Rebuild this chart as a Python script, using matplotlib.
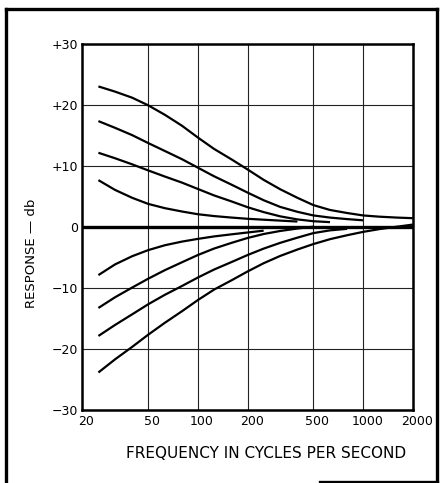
import matplotlib
matplotlib.use("Agg")
import matplotlib.pyplot as plt
from matplotlib.lines import Line2D
from matplotlib.transforms import ScaledTranslation

plt.rcParams['font.family'] = ['DejaVu Sans']

# Third-octave band frequencies (Hz) at which each response curve is tabulated
bands = [25, 31.5, 40, 50, 63, 80, 100, 125, 160, 200, 250, 315, 400, 500,
         630, 800, 1000, 1250, 1600, 2000]

# Bass boost settings (dB)
boost_1_db = [23.1, 22.25, 21.25, 20.0, 18.45, 16.65, 14.7, 12.85, 11.1, 9.45,
              7.75, 6.2, 4.8, 3.6, 2.8, 2.3, 1.9, 1.7, 1.55, 1.45]
boost_2_db = [17.4, 16.3, 15.1, 13.8, 12.5, 11.15, 9.75, 8.35, 6.95, 5.65,
              4.4, 3.3, 2.5, 1.9, 1.55, 1.3, 1.1]
boost_3_db = [12.2, 11.3, 10.3, 9.3, 8.3, 7.3, 6.25, 5.2, 4.2, 3.25,
              2.45, 1.75, 1.25, 0.95, 0.8]
boost_4_db = [7.7, 6.1, 4.8, 3.8, 3.1, 2.55, 2.1, 1.8, 1.55, 1.35,
              1.2, 1.05, 0.9]

# Bass cut settings (dB)
cut_1_db = [-7.9, -6.15, -4.8, -3.8, -3.0, -2.4, -1.95, -1.55, -1.2, -0.9, -0.6]
cut_2_db = [-13.3, -11.55, -9.95, -8.5, -7.1, -5.8, -4.6, -3.55, -2.6, -1.8,
            -1.15, -0.65, -0.25, 0.05]
cut_3_db = [-17.9, -16.1, -14.35, -12.7, -11.15, -9.7, -8.3, -7.0, -5.75, -4.6,
            -3.55, -2.6, -1.75, -1.0, -0.55, -0.3]
cut_4_db = [-23.9, -21.75, -19.7, -17.7, -15.75, -13.85, -12.0, -10.3, -8.75, -7.3,
            -5.95, -4.75, -3.7, -2.8, -2.0, -1.35, -0.8, -0.35, 0.05, 0.4]

# Flat (controls centred) response
flat_f = [20, 2000]
flat_db = [0, 0]

x_ticks = [20, 50, 100, 200, 500, 1000, 2000]
x_tick_labels = ["20", "50", "100", "200", "500", "1000", "2000"]
y_ticks = [-30, -20, -10, 0, 10, 20, 30]
y_tick_labels = ["\u221230", "\u221220", "\u221210", "0", "+10", "+20", "+30"]

fig = plt.figure(figsize=(4.43, 4.83), dpi=100)
fig.patch.set_facecolor("white")
ax = fig.add_axes([0.186, 0.152, 0.746, 0.756])

for db in [boost_1_db, boost_2_db, boost_3_db, boost_4_db,
           cut_1_db, cut_2_db, cut_3_db, cut_4_db]:
    ax.plot(bands[:len(db)], db, color="black", lw=1.6,
            solid_capstyle="butt", solid_joinstyle="round")
ax.plot(flat_f, flat_db, color="black", lw=2.4)

ax.set_xscale("log")
ax.set_xlim(20, 2000)
ax.set_ylim(-30, 30)
ax.set_xticks(x_ticks)
ax.set_xticklabels(x_tick_labels)
ax.minorticks_off()
ax.set_yticks(y_ticks)
ax.set_yticklabels(y_tick_labels)
ax.tick_params(length=0, labelsize=9, pad=3)
ax.tick_params(axis="x", pad=4)
shift = ScaledTranslation(4 / 100, 0, fig.dpi_scale_trans)
for lab in ax.get_xticklabels():
    lab.set_transform(lab.get_transform() + shift)
ax.grid(True, color="#222222", lw=0.8)
ax.set_axisbelow(True)
for s in ax.spines.values():
    s.set_linewidth(1.8)

fig.text(0.072, 0.475, "RESPONSE \u2014 db", rotation=90, ha="center", va="center",
         fontsize=9.5)
fig.text(0.60, 0.062, "FREQUENCY IN CYCLES PER SECOND", ha="center", va="center",
         fontsize=11)

# Page frame
W, H = 443, 483
frame = [((5.5, 483), (5.5, 9)), ((5.5, 9), (437, 9)), ((437, 9), (437, 481.5)),
         ((320, 481.5), (437, 481.5))]
for (x0, y0), (x1, y1) in frame:
    fig.add_artist(Line2D([x0 / W, x1 / W], [1 - y0 / H, 1 - y1 / H],
                          transform=fig.transFigure, color="black", lw=2.4))

fig.savefig("out.png", dpi=100, facecolor="white")
